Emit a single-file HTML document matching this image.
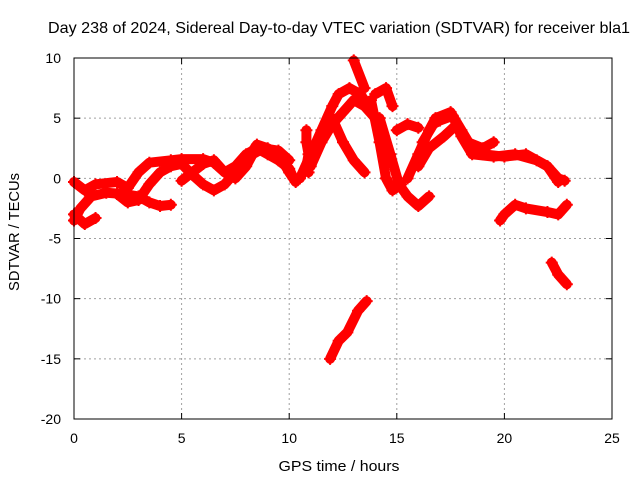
<!DOCTYPE html>
<html><head><meta charset="utf-8"><style>
body{margin:0;background:#fff}
svg text{font-family:"Liberation Sans",sans-serif;font-size:14px;fill:#000}
</style></head><body>
<svg id="c" width="640" height="480">
<rect width="640" height="480" fill="#fff"/>
<text x="339" y="33" text-anchor="middle" style="font-size:16px" textLength="582" lengthAdjust="spacingAndGlyphs">Day 238 of 2024, Sidereal Day-to-day VTEC variation (SDTVAR) for receiver bla1</text>
<text x="339" y="471" text-anchor="middle" style="font-size:15px" textLength="121" lengthAdjust="spacingAndGlyphs">GPS time / hours</text>
<text transform="translate(19,232) rotate(-90)" text-anchor="middle" style="font-size:15px" textLength="118" lengthAdjust="spacingAndGlyphs">SDTVAR / TECUs</text>
<g id="grid"></g><g id="ticks"></g><g id="data"></g>
<rect x="74" y="58" width="538" height="361" fill="none" stroke="#000" stroke-width="1"/>
</svg>
<script>
const xTicks=[0,5,10,15,20,25];
const yTicks=[10,5,0,-5,-10,-15,-20];
const tracks=[
[[0,-3.5],[0.3,-2.5],[0.8,-1.5],[1.5,-1.2],[2.3,-1.3],[3,-1.5],[3.5,-2],[4,-2.3],[4.5,-2.2]],
[[0,-3],[0.5,-3.8],[1,-3.3]],
[[0,-0.3],[0.5,-1],[1,-0.5],[2,-0.3],[2.5,-0.8],[3,0.5],[3.5,1.3],[4.5,1.5],[5,1.6],[6,1.6],[6.5,1.3],[7,0.5],[7.5,1],[8,2],[8.5,2.5],[9,2],[9.5,1.5],[10,0.8],[10.2,0]],
[[2,-1.3],[2.5,-2],[3,-1.8],[3.5,-0.5],[4,0.5],[4.5,1],[5,1.2],[5.5,0.3],[6,-0.5],[6.5,-1],[7,-0.5],[7.5,0.5],[8,1.5],[8.5,2.8],[9,2.5],[9.5,2],[10,0.5],[10.3,-0.3]],
[[5,-0.2],[5.5,0.5],[6,1.2],[6.5,1.5],[7,0.5],[7.5,0],[8,1],[8.3,2],[8.8,2.5],[9.5,2.3],[10,1.5]],
[[10.5,0],[11,2],[11.5,4],[12,6],[12.3,7],[12.8,7.5],[13.3,7],[13.7,6]],
[[11,1],[11.5,3],[12,4.5],[12.5,5.5],[13,6.5],[13.5,6],[14,5]],
[[12,5],[12.5,3],[13,1.5],[13.5,0.5]],
[[13,9.8],[13.5,7.5]],
[[13.8,6.5],[14.2,3],[14.5,0],[14.8,-1],[15.2,-0.5]],
[[14,7],[14.5,7.5],[14.8,6]],
[[14.2,5],[14.7,2],[15.1,-0.5],[15.5,-1.5],[16,-2.3],[16.5,-1.5]],
[[15,4],[15.5,4.5],[16,4.2]],
[[15.5,0],[16,2],[16.5,4],[16.8,5],[17.5,5.5],[18,4],[18.5,2.5],[19,2],[20,1.8],[21,2],[22,1],[22.5,0],[22.8,-0.2]],
[[16.2,3],[16.7,4.5],[17,4.8],[17.6,5.2],[18,3.5],[18.5,2],[19.5,1.8],[20.5,2],[21.5,1.5],[22,1],[22.5,-0.3]],
[[16,1],[16.5,2.5],[17.2,3.5],[17.8,4.5],[18.3,3],[19,2.5],[19.5,3]],
[[19.8,-3.5],[20,-3],[20.5,-2.2],[21,-2.5],[22,-2.8],[22.5,-3],[22.9,-2.2]],
[[22.2,-7],[22.5,-8],[22.9,-8.8]],
[[11.9,-15],[12.3,-13.5],[12.7,-12.8],[13.2,-11],[13.6,-10.2]],
[[10.8,4],[10.8,3],[10.9,2],[10.8,1],[10.9,0.5]]
];
const NS='http://www.w3.org/2000/svg';
const X=v=>74+(v-0)/25*538;
const Y=v=>58+(10-v)/30*361;
function mk(t,a,p){const e=document.createElementNS(NS,t);for(const k in a)e.setAttribute(k,a[k]);p.appendChild(e);return e;}
const grid=document.getElementById('grid'),ticks=document.getElementById('ticks'),data=document.getElementById('data');
xTicks.forEach(v=>{
 if(v>0&&v<25){const l=mk('line',{x1:X(v),x2:X(v),y1:58,y2:419,stroke:'#a0a0a0','stroke-dasharray':'2,3'},grid);
 
 }
 mk('line',{x1:X(v),x2:X(v),y1:419,y2:413,stroke:'#000'},ticks);
 mk('line',{x1:X(v),x2:X(v),y1:58,y2:64,stroke:'#000'},ticks);
 const t=mk('text',{x:X(v),y:443,'text-anchor':'middle'},ticks);t.textContent=v;
 
 
});
yTicks.forEach(v=>{
 if(v>-20&&v<10){const l=mk('line',{x1:74,x2:612,y1:Y(v),y2:Y(v),stroke:'#a0a0a0','stroke-dasharray':'2,3'},grid);
 
 }
 mk('line',{x1:74,x2:80,y1:Y(v),y2:Y(v),stroke:'#000'},ticks);
 mk('line',{x1:612,x2:606,y1:Y(v),y2:Y(v),stroke:'#000'},ticks);
 const t=mk('text',{x:61,y:Y(v)+5,'text-anchor':'end'},ticks);t.textContent=v;
 
 
});
tracks.forEach(tr=>{
 const p=mk('polyline',{points:tr.map(d=>X(d[0])+','+Y(d[1])).join(' '),fill:'none',stroke:'#f00','stroke-width':10,'stroke-linejoin':'round','stroke-linecap':'round'},data);
 
 
 tr.forEach(d=>{
  const m=mk('path',{d:`M${X(d[0])-6},${Y(d[1])}h12M${X(d[0])},${Y(d[1])-6}v12`,stroke:'#f00','stroke-width':2},data);
  
  
 });
});
</script>
</body></html>
